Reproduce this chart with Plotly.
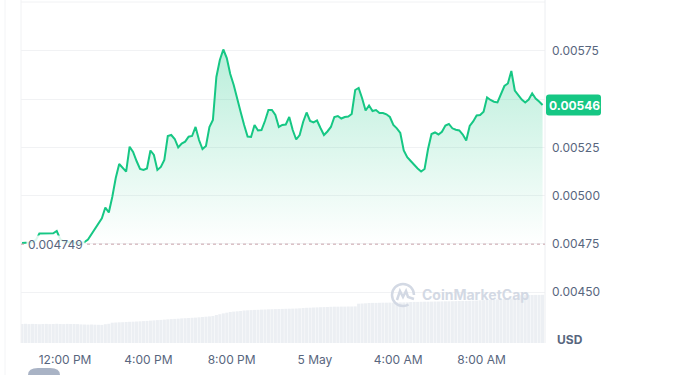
import pandas as pd
import plotly.graph_objects as go

# ---------------- data ----------------
times = pd.date_range("2024-05-04 09:56", periods=151, freq="10min")

prices = [
    0.0047552, 0.0047552, 0.0047578, 0.0047604, 0.0047707, 0.0048044, 0.0048054, 0.0048044, 0.0048054, 0.0048054,
    0.0048173, 0.0047759, 0.0047630, 0.0047604, 0.0047578, 0.0047552, 0.0047552, 0.0047552, 0.0047604, 0.0047733,
    0.0048018, 0.0048303, 0.0048588, 0.0048831, 0.0049391, 0.0049132, 0.0049935, 0.0050919, 0.0051644, 0.0051463,
    0.0051245, 0.0052540, 0.0052266, 0.0051799, 0.0051385, 0.0051333, 0.0051411, 0.0052343, 0.0052110, 0.0051333,
    0.0051489, 0.0051851, 0.0053094, 0.0053146, 0.0052939, 0.0052499, 0.0052706, 0.0052799, 0.0053058, 0.0053094,
    0.0053561, 0.0052887, 0.0052421, 0.0052576, 0.0053561, 0.0053923, 0.0056151, 0.0057031, 0.0057575, 0.0057135,
    0.0056306, 0.0055736, 0.0054959, 0.0054338, 0.0053664, 0.0053069, 0.0053043, 0.0053664, 0.0053379, 0.0053405,
    0.0053871, 0.0054441, 0.0054441, 0.0054182, 0.0053561, 0.0053664, 0.0053690, 0.0054079, 0.0053405, 0.0052913,
    0.0053146, 0.0053820, 0.0054312, 0.0053871, 0.0053794, 0.0053897, 0.0053509, 0.0053146, 0.0053328, 0.0053561,
    0.0054079, 0.0054130, 0.0054001, 0.0054079, 0.0054105, 0.0054234, 0.0055477, 0.0055581, 0.0055047, 0.0054415,
    0.0054674, 0.0054389, 0.0054441, 0.0054286, 0.0054286, 0.0054218, 0.0054079, 0.0053664, 0.0053493, 0.0053250,
    0.0052343, 0.0051991, 0.0051799, 0.0051592, 0.0051411, 0.0051256, 0.0051385, 0.0052421, 0.0053198, 0.0053276,
    0.0053172, 0.0053312, 0.0053638, 0.0053716, 0.0053493, 0.0053416, 0.0053384, 0.0053172, 0.0052861, 0.0053612,
    0.0053846, 0.0054156, 0.0054182, 0.0054353, 0.0055089, 0.0054959, 0.0054871, 0.0054835, 0.0055244, 0.0055684,
    0.0055814, 0.0056461, 0.0055451, 0.0055218, 0.0054985, 0.0054830, 0.0054985, 0.0055306, 0.0055037, 0.0054882,
    0.0054700,
]

volumes = [
    190, 192, 189, 191, 190, 188, 190, 191, 189, 190, 192, 190, 189, 191, 190, 190, 189,
    186, 185, 184, 185, 183, 182,
    181,
    188, 192,
    203,
    205, 207, 208, 210, 212, 213,
    215, 217, 219, 221, 224, 226, 229, 231, 234,
    237, 239, 241, 243, 246, 248, 250, 252, 254, 257,
    260, 263, 266, 270,
    280, 288, 296, 303,
    310, 314, 317, 320,
    325, 327, 329, 331, 332, 334, 335, 337,
    338, 339, 340, 341, 342, 343, 344, 345, 347,
    350, 352, 353, 355, 356, 358, 359, 360, 362, 363,
    363, 364, 364, 365, 365, 366,
    393, 395, 397,
    400, 401, 401, 402, 403, 403, 404, 404, 405, 406, 406, 407,
    410, 411, 411, 412, 413, 413, 414, 415, 415, 416, 417, 417, 418, 419, 420, 421, 421, 422, 423,
    425, 427, 429, 431, 433, 435, 437, 439, 441, 443, 445, 446, 447,
    478, 479, 480, 480, 481, 481, 482,
]

baseline_price = 0.004749
baseline_label = "0.004749"
last_price_label = "0.00546"
currency_label = "USD"
watermark = "CoinMarketCap"

y_tick_vals = [0.00450, 0.00475, 0.00500, 0.00525, 0.00550, 0.00575]
# the 0.00550 label sits under the live-price tag in the original
y_tick_text = ["0.00450", "0.00475", "0.00500", "0.00525", "", "0.00575"]
x_tick_vals = ["2024-05-04 12:00", "2024-05-04 16:00", "2024-05-04 20:00",
               "2024-05-05 00:00", "2024-05-05 04:00", "2024-05-05 08:00"]
x_tick_text = ["12:00 PM", "4:00 PM", "8:00 PM", "5 May", "4:00 AM", "8:00 AM"]

# ---------------- style ----------------
GREEN = "#16c784"
LABEL = "#58667e"
GRID = "#f1f2f4"
FONT = "Inter"
WM = "#d3d9e4"

fig = go.Figure()

fig.add_trace(go.Scatter(
    x=times, y=[baseline_price] * len(times), mode="lines",
    line=dict(width=0, color="rgba(0,0,0,0)"), hoverinfo="skip", showlegend=False,
))
fig.add_trace(go.Scatter(
    x=times, y=prices, mode="lines",
    line=dict(color=GREEN, width=2),
    fill="tonexty",
    fillgradient=dict(
        type="vertical",
        colorscale=[[0, "rgba(22,199,132,0.0)"], [1, "rgba(22,199,132,0.30)"]],
        start=baseline_price, stop=0.00576,
    ),
    showlegend=False,
))
fig.add_trace(go.Bar(
    x=times, y=volumes, yaxis="y2",
    marker=dict(color="#eceff3", line=dict(width=0)),
    hoverinfo="skip", showlegend=False,
))

fig.update_layout(
    width=692, height=375,
    margin=dict(l=21, r=147, t=2, b=32),
    paper_bgcolor="white", plot_bgcolor="white",
    bargap=0.12,
    font=dict(family=FONT, size=12, color=LABEL),
    xaxis=dict(
        type="date",
        range=["2024-05-04 09:53", "2024-05-05 11:03"],
        tickvals=x_tick_vals, ticktext=x_tick_text,
        showgrid=False, zeroline=False, showline=False, ticks="",
        tickfont=dict(family=FONT, size=12, color=LABEL),
        ticklabelstandoff=8,
    ),
    yaxis=dict(
        side="right",
        range=[0.004237, 0.0060036],
        tickvals=y_tick_vals, ticktext=y_tick_text,
        showgrid=True, gridcolor=GRID, gridwidth=1,
        zeroline=False, showline=False, ticks="",
        tickfont=dict(family=FONT, size=12, color=LABEL),
        ticklabelstandoff=6,
    ),
    yaxis2=dict(overlaying="y", range=[0, 3410], visible=False),
)

shapes = [
    # frame lines
    dict(type="line", xref="paper", yref="paper", x0=0, x1=1, y0=1, y1=1,
         line=dict(color=GRID, width=1)),
    dict(type="line", xref="paper", yref="paper", x0=0, x1=0, y0=0, y1=1.01,
         line=dict(color=GRID, width=1)),
    dict(type="line", xref="paper", yref="paper", x0=1, x1=1, y0=0, y1=1.01,
         line=dict(color="#eceef1", width=1)),
    dict(type="line", xref="paper", yref="paper", x0=-0.0305, x1=-0.0305, y0=-0.1, y1=1.01,
         line=dict(color="#f3f4f6", width=1)),
    # baseline
    dict(type="line", xref="paper", yref="y", x0=0, x1=1, y0=baseline_price, y1=baseline_price,
         line=dict(color="#c8a3ab", width=1, dash="dot"), layer="above"),
    # price tag
    dict(type="path", xref="paper", yref="y", xsizemode="pixel", ysizemode="pixel",
         xanchor=1, yanchor=prices[-1],
         path="M 4,-10.5 L 53,-10.5 Q 56,-10.5 56,-7.5 L 56,7.5 Q 56,10.5 53,10.5 "
              "L 4,10.5 Q 1,10.5 1,7.5 L 1,-7.5 Q 1,-10.5 4,-10.5 Z",
         fillcolor=GREEN, line=dict(width=0), layer="above"),
    # watermark logo
    dict(type="path", xref="paper", yref="paper", xsizemode="pixel", ysizemode="pixel",
         xanchor=0.729, yanchor=0.1408,
         path="M 11,0 C 11,6.08 6.08,11 0,11 C -6.08,11 -11,6.08 -11,0 "
              "C -11,-6.08 -6.08,-11 0,-11 C 2.2,-11 4,-10.5 5.5,-9.5",
         line=dict(color=WM, width=2.5), layer="above"),
    dict(type="path", xref="paper", yref="paper", xsizemode="pixel", ysizemode="pixel",
         xanchor=0.729, yanchor=0.1408,
         path="M -6,-5 L -3,4 L 0,-2 L 3,4 L 5,-2 L 11,-4",
         line=dict(color=WM, width=2.5), layer="above"),
    # cropped pill at bottom-left
    dict(type="path", xref="paper", yref="paper", xsizemode="pixel", ysizemode="pixel",
         xanchor=0.0439, yanchor=-0.0938,
         path="M -16,-8 L -16,0 Q -16,7 -6,7 L 6,7 Q 16,7 16,0 L 16,-8 Z",
         fillcolor="#a9b3c5", line=dict(width=0)),
]
fig.update_layout(shapes=shapes)

annotations = [
    dict(text=baseline_label, xref="paper", yref="y", x=0, y=baseline_price,
         xanchor="left", yanchor="middle", xshift=5, showarrow=False,
         font=dict(family=FONT, size=12, color=LABEL),
         bgcolor="rgba(255,255,255,0.85)", borderpad=1),
    dict(text=f"<b>{last_price_label}</b>", xref="paper", yref="y", x=1, y=prices[-1],
         xanchor="center", yanchor="middle", xshift=29, showarrow=False,
         font=dict(family=FONT, size=12, color="white")),
    dict(text=f"<b>{currency_label}</b>", xref="paper", yref="paper", x=1, y=0.009,
         xanchor="center", yanchor="middle", xshift=25, showarrow=False,
         font=dict(family=FONT, size=12, color=LABEL)),
    dict(text=watermark, xref="paper", yref="paper", x=0.868, y=0.1408,
         xanchor="center", yanchor="middle", showarrow=False,
         font=dict(family=FONT, size=14, color=WM, weight=700)),
]
fig.update_layout(annotations=annotations)

fig.write_html("out.html", config={"displayModeBar": False},
               post_script="document.body.style.margin='0px';")
